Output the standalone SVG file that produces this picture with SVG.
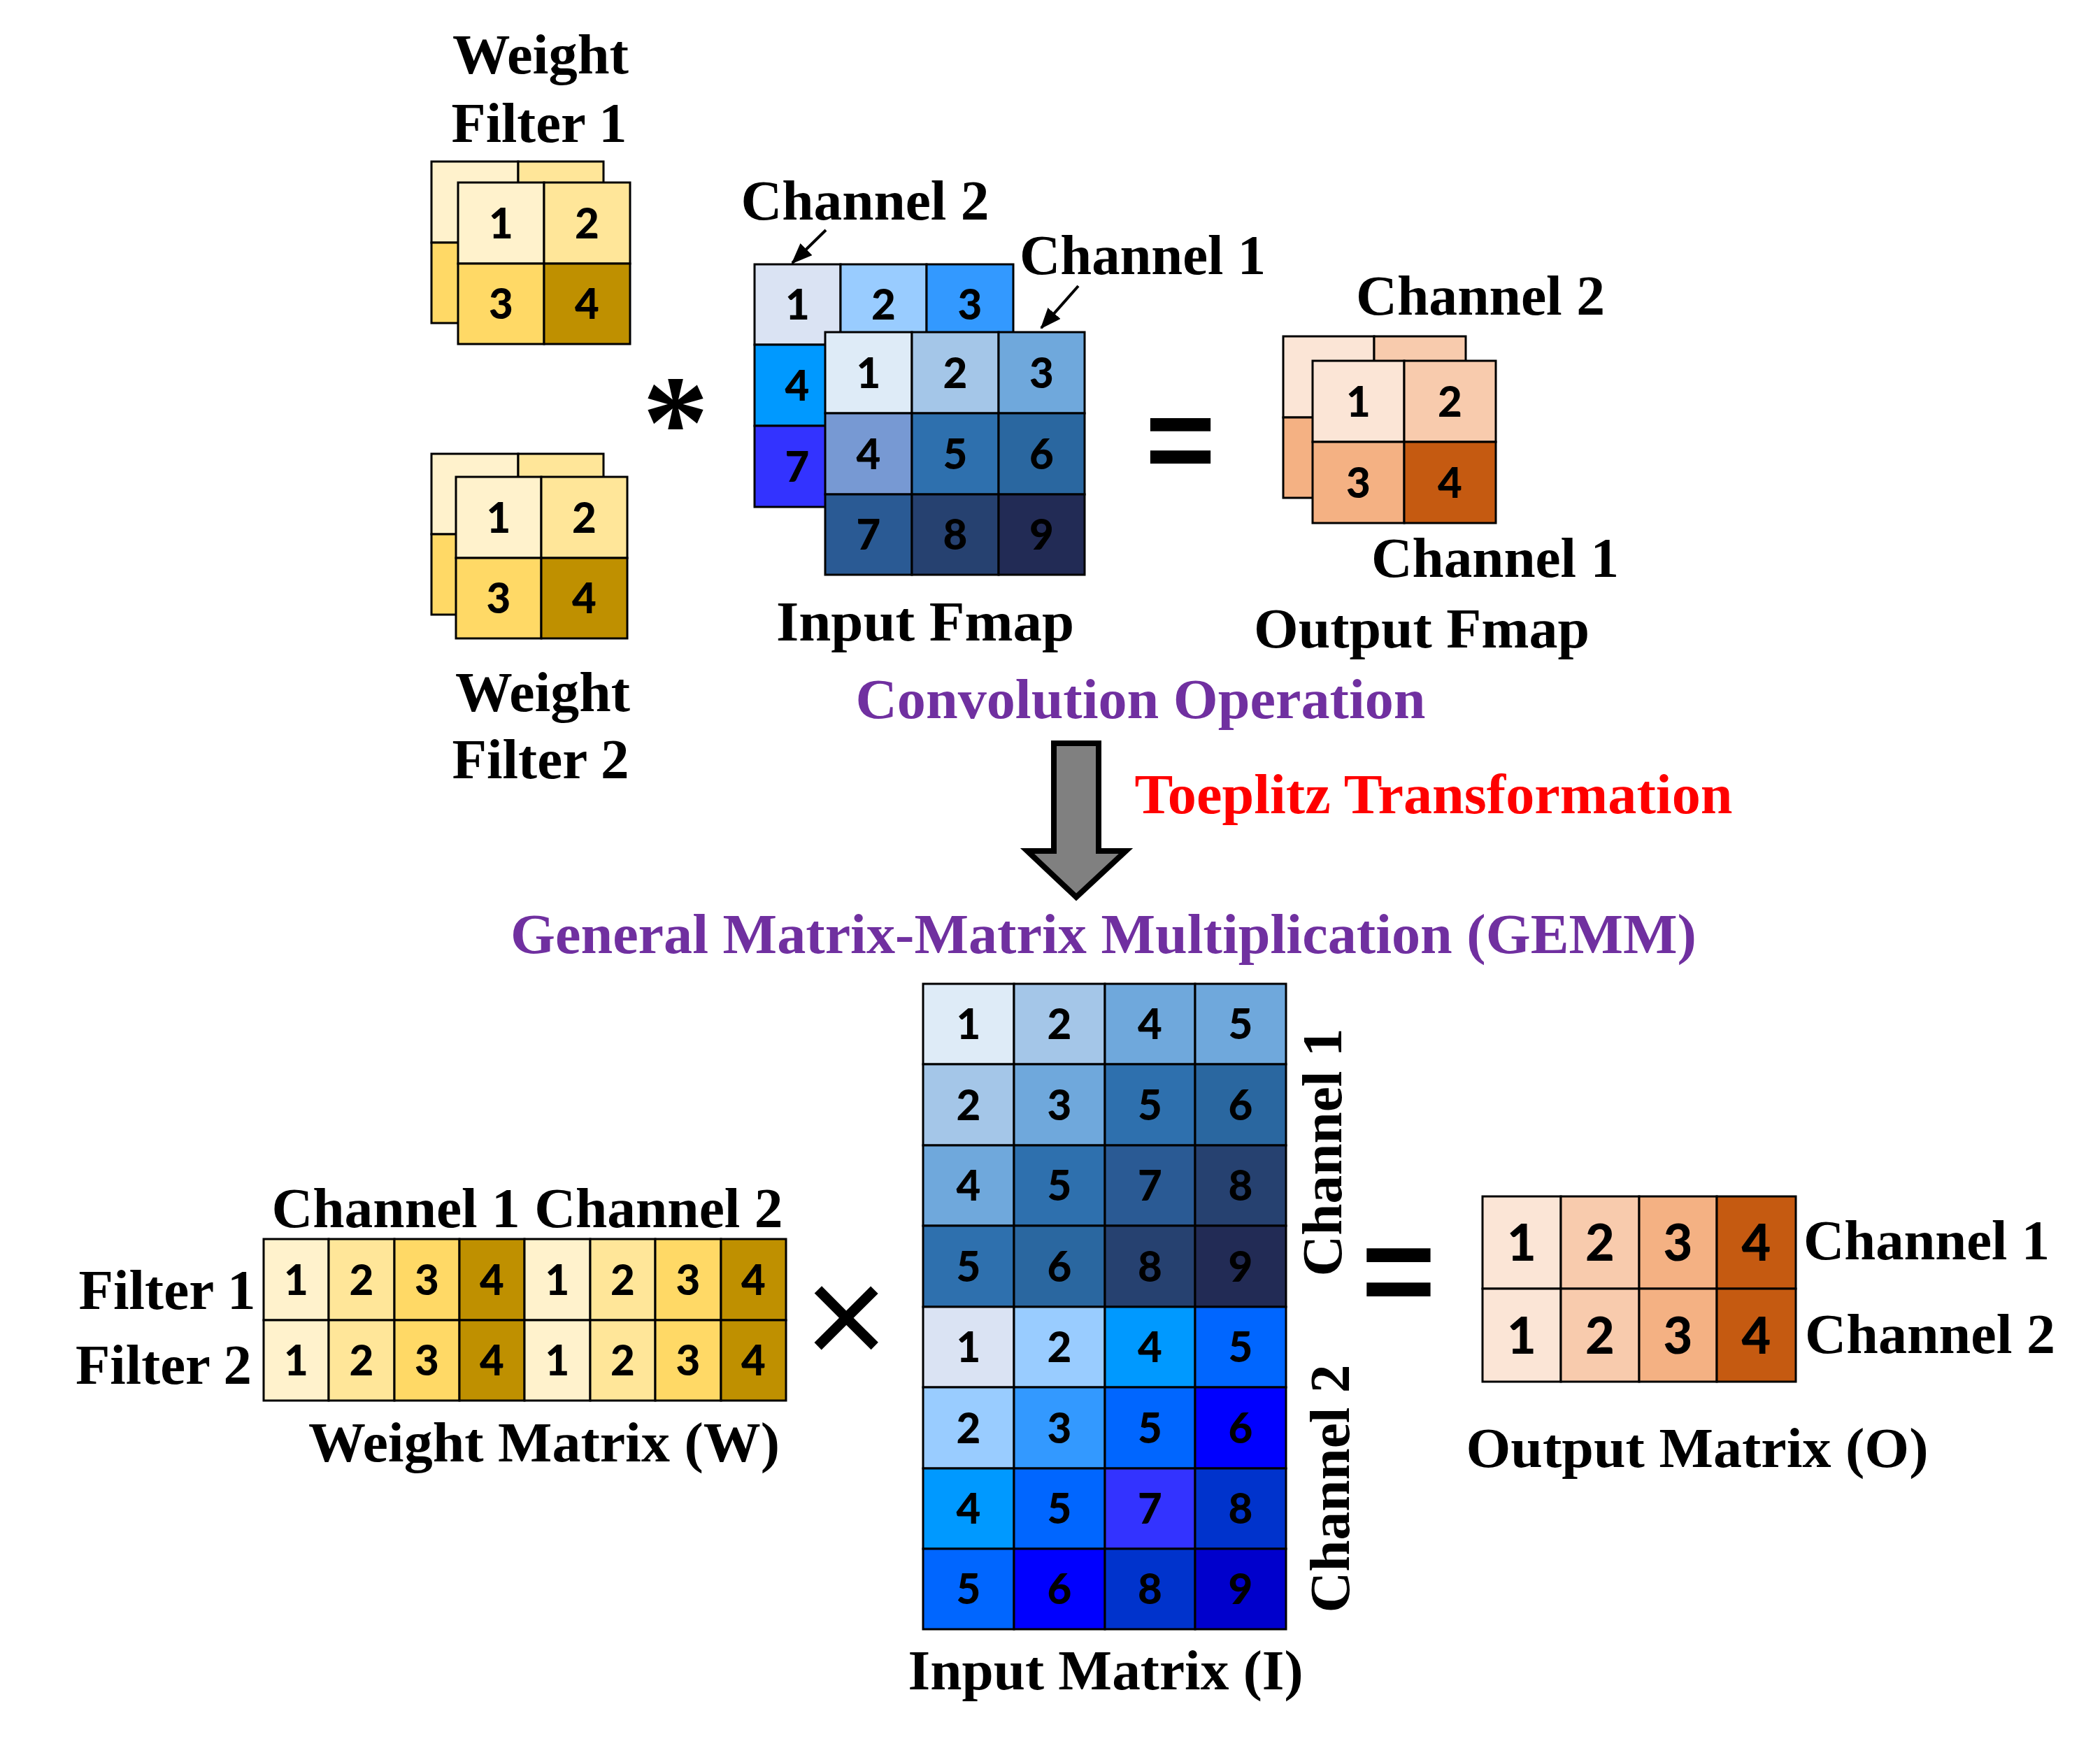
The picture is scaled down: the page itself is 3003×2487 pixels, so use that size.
<svg xmlns="http://www.w3.org/2000/svg" width="3003" height="2487" viewBox="0 0 3003 2487">
<style>
.c{stroke:#000;stroke-width:3}
.d{font-family:Lato,"Open Sans","Liberation Sans",sans-serif;font-weight:900;font-size:60px;text-anchor:middle;fill:#000}
.d2{font-family:Lato,"Open Sans","Liberation Sans",sans-serif;font-weight:900;font-size:72px;text-anchor:middle;fill:#000}
.t{font-family:"Liberation Serif","Times New Roman",serif;font-weight:700;font-size:80px;text-anchor:middle;fill:#000}
.op{font-family:"Liberation Sans",Arial,sans-serif;font-weight:700;text-anchor:middle;fill:#000}
.y1{fill:#FFF2CC}.y2{fill:#FFE699}.y3{fill:#FFD966}.y4{fill:#BF9000}
.o1{fill:#FBE5D6}.o2{fill:#F8CBAD}.o3{fill:#F4B183}.o4{fill:#C55A11}
</style>
<defs>
<marker id="ah" markerUnits="userSpaceOnUse" markerWidth="30" markerHeight="24" refX="28" refY="12" orient="auto">
<path d="M0,0 L30,12 L0,24 Z" fill="#000"/>
</marker>
</defs>
<rect width="3003" height="2487" fill="#fff"/>

<g id="filter1">
<text class="t" x="773" y="105" textLength="252" lengthAdjust="spacingAndGlyphs">Weight</text>
<text class="t" x="771" y="203" textLength="251" lengthAdjust="spacingAndGlyphs">Filter 1</text>
<rect class="c y1" x="617" y="231" width="124" height="116"/>
<rect class="c y2" x="741" y="231" width="122" height="116"/>
<rect class="c y3" x="617" y="347" width="124" height="115"/>
<rect class="c y4" x="741" y="347" width="122" height="115"/>
<rect class="c y1" x="655" y="261" width="123" height="116"/>
<rect class="c y2" x="778" y="261" width="123" height="116"/>
<rect class="c y3" x="655" y="377" width="123" height="115"/>
<rect class="c y4" x="778" y="377" width="123" height="115"/>
<text class="d" x="716.5" y="341">1</text>
<text class="d" x="839.5" y="341">2</text>
<text class="d" x="716.5" y="456">3</text>
<text class="d" x="839.5" y="456">4</text>
</g>

<g id="filter2">
<rect class="c y1" x="617" y="649" width="124" height="115"/>
<rect class="c y2" x="741" y="649" width="122" height="115"/>
<rect class="c y3" x="617" y="764" width="124" height="115"/>
<rect class="c y4" x="741" y="764" width="122" height="115"/>
<rect class="c y1" x="652" y="682" width="122" height="116"/>
<rect class="c y2" x="774" y="682" width="123" height="116"/>
<rect class="c y3" x="652" y="798" width="122" height="115"/>
<rect class="c y4" x="774" y="798" width="123" height="115"/>
<text class="d" x="713" y="761.5">1</text>
<text class="d" x="835.5" y="761.5">2</text>
<text class="d" x="713" y="877">3</text>
<text class="d" x="835.5" y="877">4</text>
<text class="t" x="776" y="1017" textLength="250" lengthAdjust="spacingAndGlyphs">Weight</text>
<text class="t" x="773" y="1113" textLength="253" lengthAdjust="spacingAndGlyphs">Filter 2</text>
</g>

<g id="conv-operator">
<text class="op" x="966" y="668" style="font-family:'Liberation Serif',serif;font-size:190px">*</text>
</g>

<g id="input-fmap">
<text class="t" x="1237" y="314" textLength="355" lengthAdjust="spacingAndGlyphs">Channel 2</text>
<text class="t" x="1634" y="392" textLength="352" lengthAdjust="spacingAndGlyphs">Channel 1</text>
<rect class="c" x="1079" y="378" width="123" height="115" fill="#DAE3F3"/>
<rect class="c" x="1202" y="378" width="123" height="115" fill="#99CCFF"/>
<rect class="c" x="1325" y="378" width="124" height="115" fill="#3399FF"/>
<rect class="c" x="1079" y="493" width="123" height="116" fill="#0099FF"/>
<rect class="c" x="1202" y="493" width="123" height="116" fill="#0066FF"/>
<rect class="c" x="1325" y="493" width="124" height="116" fill="#0000FF"/>
<rect class="c" x="1079" y="609" width="123" height="116" fill="#3333FF"/>
<rect class="c" x="1202" y="609" width="123" height="116" fill="#0033CC"/>
<rect class="c" x="1325" y="609" width="124" height="116" fill="#0000CC"/>
<text class="d" x="1140.5" y="457">1</text>
<text class="d" x="1263.5" y="457">2</text>
<text class="d" x="1387" y="457">3</text>
<text class="d" x="1140" y="572.5">4</text>
<text class="d" x="1140" y="688.5">7</text>
<rect class="c" x="1180" y="475" width="124" height="116" fill="#DEEBF7"/>
<rect class="c" x="1304" y="475" width="124" height="116" fill="#A4C6E8"/>
<rect class="c" x="1428" y="475" width="123" height="116" fill="#6FA8DC"/>
<rect class="c" x="1180" y="591" width="124" height="116" fill="#7799D3"/>
<rect class="c" x="1304" y="591" width="124" height="116" fill="#2E70AE"/>
<rect class="c" x="1428" y="591" width="123" height="116" fill="#2A67A0"/>
<rect class="c" x="1180" y="707" width="124" height="115" fill="#2A5A94"/>
<rect class="c" x="1304" y="707" width="124" height="115" fill="#264170"/>
<rect class="c" x="1428" y="707" width="123" height="115" fill="#222B55"/>
<text class="d" x="1242" y="554.5">1</text>
<text class="d" x="1366" y="554.5">2</text>
<text class="d" x="1489.5" y="554.5">3</text>
<text class="d" x="1242" y="670.5">4</text>
<text class="d" x="1366" y="670.5">5</text>
<text class="d" x="1489.5" y="670.5">6</text>
<text class="d" x="1242" y="786">7</text>
<text class="d" x="1366" y="786">8</text>
<text class="d" x="1489.5" y="786">9</text>
<text class="t" x="1323" y="916" textLength="426" lengthAdjust="spacingAndGlyphs">Input Fmap</text>
</g>

<g id="eq-top">
<text class="op" x="1688" y="688" style="font-size:172px">=</text>
</g>

<g id="output-fmap">
<text class="t" x="2117" y="450" textLength="356" lengthAdjust="spacingAndGlyphs">Channel 2</text>
<rect class="c o1" x="1835" y="481" width="130" height="116"/>
<rect class="c o2" x="1965" y="481" width="131" height="116"/>
<rect class="c o3" x="1835" y="597" width="130" height="115"/>
<rect class="c o4" x="1965" y="597" width="131" height="115"/>
<rect class="c o1" x="1877" y="516" width="131" height="116"/>
<rect class="c o2" x="2008" y="516" width="131" height="116"/>
<rect class="c o3" x="1877" y="632" width="131" height="116"/>
<rect class="c o4" x="2008" y="632" width="131" height="116"/>
<text class="d" x="1942.5" y="595.5">1</text>
<text class="d" x="2073.5" y="595.5">2</text>
<text class="d" x="1942.5" y="711.5">3</text>
<text class="d" x="2073.5" y="711.5">4</text>
<text class="t" x="2138" y="825" textLength="354" lengthAdjust="spacingAndGlyphs">Channel 1</text>
<text class="t" x="2033" y="926" textLength="480" lengthAdjust="spacingAndGlyphs">Output Fmap</text>
</g>

<g id="titles">
<text class="t" x="1631" y="1027" style="fill:#7030A0" textLength="815" lengthAdjust="spacingAndGlyphs">Convolution Operation</text>
<text class="t" x="2050" y="1163" style="fill:#FF0000" textLength="855" lengthAdjust="spacingAndGlyphs">Toeplitz Transformation</text>
<text class="t" x="1578" y="1363" style="fill:#7030A0" textLength="1696" lengthAdjust="spacingAndGlyphs">General Matrix-Matrix Multiplication (GEMM)</text>
</g>

<g id="connectors">
<line x1="1181" y1="329" x2="1133" y2="376" stroke="#000" stroke-width="4" marker-end="url(#ah)"/>
<line x1="1542" y1="409" x2="1489" y2="469" stroke="#000" stroke-width="4" marker-end="url(#ah)"/>
<path d="M1507,1063 L1571,1063 L1571,1217 L1610,1217 L1539,1283 L1469,1217 L1507,1217 Z" fill="#808080" stroke="#000" stroke-width="8"/>
</g>

<g id="weight-matrix">
<text class="t" x="754" y="1755" textLength="731" lengthAdjust="spacingAndGlyphs">Channel 1 Channel 2</text>
<text class="t" x="239" y="1872" textLength="253" lengthAdjust="spacingAndGlyphs">Filter 1</text>
<text class="t" x="234" y="1979" textLength="252" lengthAdjust="spacingAndGlyphs">Filter 2</text>
<rect class="c y1" x="377" y="1772" width="93" height="116"/>
<rect class="c y2" x="470" y="1772" width="94" height="116"/>
<rect class="c y3" x="564" y="1772" width="93" height="116"/>
<rect class="c y4" x="657" y="1772" width="93" height="116"/>
<rect class="c y1" x="750" y="1772" width="94" height="116"/>
<rect class="c y2" x="844" y="1772" width="93" height="116"/>
<rect class="c y3" x="937" y="1772" width="94" height="116"/>
<rect class="c y4" x="1031" y="1772" width="93" height="116"/>
<rect class="c y1" x="377" y="1888" width="93" height="115"/>
<rect class="c y2" x="470" y="1888" width="94" height="115"/>
<rect class="c y3" x="564" y="1888" width="93" height="115"/>
<rect class="c y4" x="657" y="1888" width="93" height="115"/>
<rect class="c y1" x="750" y="1888" width="94" height="115"/>
<rect class="c y2" x="844" y="1888" width="93" height="115"/>
<rect class="c y3" x="937" y="1888" width="94" height="115"/>
<rect class="c y4" x="1031" y="1888" width="93" height="115"/>
<text class="d" x="423.5" y="1851.5">1</text>
<text class="d" x="517" y="1851.5">2</text>
<text class="d" x="610.5" y="1851.5">3</text>
<text class="d" x="703.5" y="1851.5">4</text>
<text class="d" x="797" y="1851.5">1</text>
<text class="d" x="890.5" y="1851.5">2</text>
<text class="d" x="984" y="1851.5">3</text>
<text class="d" x="1077.5" y="1851.5">4</text>
<text class="d" x="423.5" y="1967">1</text>
<text class="d" x="517" y="1967">2</text>
<text class="d" x="610.5" y="1967">3</text>
<text class="d" x="703.5" y="1967">4</text>
<text class="d" x="797" y="1967">1</text>
<text class="d" x="890.5" y="1967">2</text>
<text class="d" x="984" y="1967">3</text>
<text class="d" x="1077.5" y="1967">4</text>
<text class="t" x="778" y="2090" textLength="674" lengthAdjust="spacingAndGlyphs">Weight Matrix (W)</text>
</g>

<g id="times-operator">
<text class="op" x="1210" y="1953" style="font-weight:400;font-size:205px">×</text>
</g>

<g id="input-matrix">
<rect class="c" x="1320" y="1407" width="130" height="115" fill="#DEEBF7"/>
<rect class="c" x="1450" y="1407" width="130" height="115" fill="#A4C6E8"/>
<rect class="c" x="1580" y="1407" width="129" height="115" fill="#6FA8DC"/>
<rect class="c" x="1709" y="1407" width="130" height="115" fill="#6FA8DC"/>
<rect class="c" x="1320" y="1522" width="130" height="116" fill="#A4C6E8"/>
<rect class="c" x="1450" y="1522" width="130" height="116" fill="#6FA8DC"/>
<rect class="c" x="1580" y="1522" width="129" height="116" fill="#2E70AE"/>
<rect class="c" x="1709" y="1522" width="130" height="116" fill="#2A67A0"/>
<rect class="c" x="1320" y="1638" width="130" height="115" fill="#6FA8DC"/>
<rect class="c" x="1450" y="1638" width="130" height="115" fill="#2E70AE"/>
<rect class="c" x="1580" y="1638" width="129" height="115" fill="#2A5A94"/>
<rect class="c" x="1709" y="1638" width="130" height="115" fill="#264170"/>
<rect class="c" x="1320" y="1753" width="130" height="116" fill="#2E70AE"/>
<rect class="c" x="1450" y="1753" width="130" height="116" fill="#2A67A0"/>
<rect class="c" x="1580" y="1753" width="129" height="116" fill="#264170"/>
<rect class="c" x="1709" y="1753" width="130" height="116" fill="#222B55"/>
<rect class="c" x="1320" y="1869" width="130" height="115" fill="#DAE3F3"/>
<rect class="c" x="1450" y="1869" width="130" height="115" fill="#99CCFF"/>
<rect class="c" x="1580" y="1869" width="129" height="115" fill="#0099FF"/>
<rect class="c" x="1709" y="1869" width="130" height="115" fill="#0066FF"/>
<rect class="c" x="1320" y="1984" width="130" height="116" fill="#99CCFF"/>
<rect class="c" x="1450" y="1984" width="130" height="116" fill="#3399FF"/>
<rect class="c" x="1580" y="1984" width="129" height="116" fill="#0066FF"/>
<rect class="c" x="1709" y="1984" width="130" height="116" fill="#0000FF"/>
<rect class="c" x="1320" y="2100" width="130" height="115" fill="#0099FF"/>
<rect class="c" x="1450" y="2100" width="130" height="115" fill="#0066FF"/>
<rect class="c" x="1580" y="2100" width="129" height="115" fill="#3333FF"/>
<rect class="c" x="1709" y="2100" width="130" height="115" fill="#0033CC"/>
<rect class="c" x="1320" y="2215" width="130" height="115" fill="#0066FF"/>
<rect class="c" x="1450" y="2215" width="130" height="115" fill="#0000FF"/>
<rect class="c" x="1580" y="2215" width="129" height="115" fill="#0033CC"/>
<rect class="c" x="1709" y="2215" width="130" height="115" fill="#0000CC"/>
<text class="d" x="1385" y="1486">1</text>
<text class="d" x="1515" y="1486">2</text>
<text class="d" x="1644.5" y="1486">4</text>
<text class="d" x="1774" y="1486">5</text>
<text class="d" x="1385" y="1601.5">2</text>
<text class="d" x="1515" y="1601.5">3</text>
<text class="d" x="1644.5" y="1601.5">5</text>
<text class="d" x="1774" y="1601.5">6</text>
<text class="d" x="1385" y="1717">4</text>
<text class="d" x="1515" y="1717">5</text>
<text class="d" x="1644.5" y="1717">7</text>
<text class="d" x="1774" y="1717">8</text>
<text class="d" x="1385" y="1832.5">5</text>
<text class="d" x="1515" y="1832.5">6</text>
<text class="d" x="1644.5" y="1832.5">8</text>
<text class="d" x="1774" y="1832.5">9</text>
<text class="d" x="1385" y="1948">1</text>
<text class="d" x="1515" y="1948">2</text>
<text class="d" x="1644.5" y="1948">4</text>
<text class="d" x="1774" y="1948">5</text>
<text class="d" x="1385" y="2063.5">2</text>
<text class="d" x="1515" y="2063.5">3</text>
<text class="d" x="1644.5" y="2063.5">5</text>
<text class="d" x="1774" y="2063.5">6</text>
<text class="d" x="1385" y="2179">4</text>
<text class="d" x="1515" y="2179">5</text>
<text class="d" x="1644.5" y="2179">7</text>
<text class="d" x="1774" y="2179">8</text>
<text class="d" x="1385" y="2294">5</text>
<text class="d" x="1515" y="2294">6</text>
<text class="d" x="1644.5" y="2294">8</text>
<text class="d" x="1774" y="2294">9</text>
<text class="t" transform="translate(1918,1648) rotate(-90)" x="0" y="0" textLength="355" lengthAdjust="spacingAndGlyphs">Channel 1</text>
<text class="t" transform="translate(1929,2129) rotate(-90)" x="0" y="0" textLength="355" lengthAdjust="spacingAndGlyphs">Channel 2</text>
<text class="t" x="1581" y="2416" textLength="565" lengthAdjust="spacingAndGlyphs">Input Matrix (I)</text>
</g>

<g id="eq-bottom">
<text class="op" x="2000" y="1880" style="font-size:182px">=</text>
</g>

<g id="output-matrix">
<rect class="c o1" x="2120" y="1711" width="112" height="132"/>
<rect class="c o2" x="2232" y="1711" width="112" height="132"/>
<rect class="c o3" x="2344" y="1711" width="111" height="132"/>
<rect class="c o4" x="2455" y="1711" width="113" height="132"/>
<rect class="c o1" x="2120" y="1843" width="112" height="133"/>
<rect class="c o2" x="2232" y="1843" width="112" height="133"/>
<rect class="c o3" x="2344" y="1843" width="111" height="133"/>
<rect class="c o4" x="2455" y="1843" width="113" height="133"/>
<text class="d2" x="2176" y="1803">1</text>
<text class="d2" x="2288" y="1803">2</text>
<text class="d2" x="2399.5" y="1803">3</text>
<text class="d2" x="2511.5" y="1803">4</text>
<text class="d2" x="2176" y="1935.5">1</text>
<text class="d2" x="2288" y="1935.5">2</text>
<text class="d2" x="2399.5" y="1935.5">3</text>
<text class="d2" x="2511.5" y="1935.5">4</text>
<text class="t" x="2755" y="1801" textLength="352" lengthAdjust="spacingAndGlyphs">Channel 1</text>
<text class="t" x="2760" y="1935" textLength="358" lengthAdjust="spacingAndGlyphs">Channel 2</text>
<text class="t" x="2427" y="2098" textLength="661" lengthAdjust="spacingAndGlyphs">Output Matrix (O)</text>
</g>
</svg>
